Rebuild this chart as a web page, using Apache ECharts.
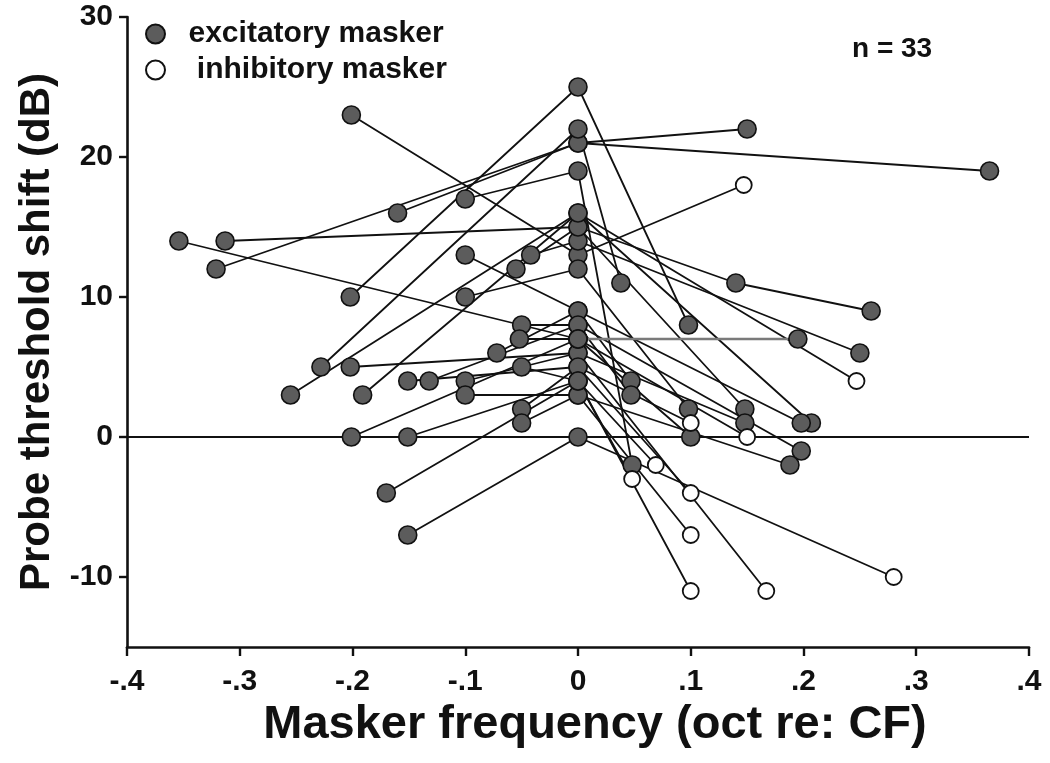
<!DOCTYPE html>
<html>
<head>
<meta charset="utf-8">
<title>Probe threshold shift</title>
<script src="https://cdn.jsdelivr.net/npm/echarts@6/dist/echarts.min.js"></script>
<style>
  html, body { margin: 0; padding: 0; background: #fff; }
  #chart { width: 1050px; height: 763px; }
</style>
</head>
<body>
<div id="chart"></div>
<script>
// one polyline per unit: [masker freq (oct re CF), threshold shift (dB), inhibitory flag]
var units = [
  [[-0.202, 10], [0, 25], [0.098, 8]],
  [[-0.201, 23], [0, 13], [0.147, 18, 1]],
  [[-0.321, 12], [0, 21], [0.365, 19]],
  [[-0.16, 16], [0, 21], [0.15, 22]],
  [[-0.1, 17], [0, 19], [0.048, -2]],
  [[-0.313, 14], [0, 15], [0.14, 11], [0.26, 9]],
  [[-0.354, 14], [0, 7]],
  [[-0.228, 5], [0, 22], [0.038, 11]],
  [[-0.255, 3], [0, 16], [0.247, 4, 1]],
  [[-0.042, 13], [0, 14], [0.25, 6]],
  [[-0.055, 12], [0, 15], [0.148, 2]],
  [[-0.1, 13], [0, 9], [0.047, 4]],
  [[-0.1, 10], [0, 12], [0.098, 2]],
  [[-0.202, 5], [0, 6], [0.167, -11, 1]],
  [[-0.191, 3], [0, 16], [0.207, 1]],
  [[-0.151, 4], [0, 5], [0.1, -4, 1]],
  [[-0.132, 4], [0, 8], [0.047, 3]],
  [[-0.1, 4], [0, 6], [0.148, 1]],
  [[-0.1, 3], [0, 3], [0.1, -7, 1]],
  [[-0.072, 6], [0, 9], [0.198, 1]],
  [[-0.05, 8], [0, 8], [0.198, -1]],
  [[-0.052, 7], [0, 7], [0.15, 0, 1]],
  [[-0.05, 5], [0, 4], [0.1, -11, 1]],
  [[-0.05, 2], [0, 5], [0.1, 1, 1]],
  [[-0.05, 1], [0, 3], [0.188, -2]],
  [[-0.201, 0], [0, 7], [0.1, 0]],
  [[-0.151, 0], [0, 4], [0.048, -3, 1]],
  [[-0.17, -4], [0, 4], [0.069, -2, 1]],
  [[-0.151, -7], [0, 0], [0.28, -10, 1]]
];
// unit drawn with a grey connecting line
var greyUnit = [[0, 7], [0.195, 7]];
var zeroLine = [[-0.4, 0], [0.4, 0]];
var yTicks = [-10, 0, 10, 20, 30];

var excit = [], inhib = [];
units.concat([greyUnit]).forEach(function (u) {
  u.forEach(function (p) {
    (p[2] ? inhib : excit).push([p[0], p[1]]);
  });
});

var FONT = '"Liberation Sans", Arial, sans-serif';
var series = [{
  type: 'line', data: zeroLine, showSymbol: false, silent: true, z: 1,
  lineStyle: { color: '#111', width: 2.2 }
}];
units.forEach(function (u) {
  series.push({
    type: 'line', silent: true, showSymbol: false, z: 2,
    data: u.map(function (p) { return [p[0], p[1]]; }),
    lineStyle: { color: '#111', width: 1.8 }
  });
});
series.push({
  type: 'line', silent: true, showSymbol: false, z: 2, data: greyUnit,
  lineStyle: { color: '#7a7a7a', width: 2.6 }
});
series.push({
  name: 'excitatory masker', type: 'scatter', data: excit, symbolSize: 18, z: 5,
  itemStyle: { color: '#5c5c5c', borderColor: '#111', borderWidth: 1.6, opacity: 1 }
});
series.push({
  name: 'inhibitory masker', type: 'scatter', data: inhib, symbolSize: 16, z: 5,
  itemStyle: { color: '#fff', borderColor: '#111', borderWidth: 1.8, opacity: 1 }
});

var chart = echarts.init(document.getElementById('chart'));
chart.setOption({
  animation: false,
  backgroundColor: '#fff',
  title: {
    text: 'n = 33', left: 852, top: 35, padding: 0,
    textStyle: { fontFamily: FONT, fontWeight: 'bold', fontSize: 28, color: '#111' }
  },
  legend: {
    data: ['excitatory masker', 'inhibitory masker'],
    orient: 'vertical', left: 145, top: 19, padding: 0,
    itemWidth: 56, itemHeight: 19, itemGap: 6,
    formatter: function (name) { return name.charAt(0) === 'i' ? ' ' + name : name; },
    textStyle: { fontFamily: FONT, fontWeight: 'bold', fontSize: 30, color: '#111' }
  },
  grid: { left: 127, right: 21, top: 17, bottom: 116 },
  xAxis: {
    type: 'value', min: -0.4, max: 0.4, interval: 0.1,
    name: 'Masker frequency (oct re: CF)', nameLocation: 'middle', nameGap: 49,
    nameTextStyle: { fontFamily: FONT, fontWeight: 'bold', fontSize: 47, color: '#111', padding: [0, 0, 0, 34] },
    axisLine: { onZero: false, lineStyle: { color: '#111', width: 2.6 } },
    axisTick: { length: 9, lineStyle: { color: '#111', width: 2.4 } },
    splitLine: { show: false },
    axisLabel: {
      margin: 20, color: '#111', fontFamily: FONT, fontWeight: 'bold', fontSize: 30,
      formatter: function (v) {
        var k = Math.round(Math.abs(v) * 10);
        return k === 0 ? '0' : (v < 0 ? '-' : '') + '.' + k;
      }
    }
  },
  yAxis: {
    type: 'value', min: -15, max: 30,
    name: 'Probe threshold shift (dB)', nameLocation: 'middle', nameGap: 45,
    nameTextStyle: { fontFamily: FONT, fontWeight: 'bold', fontSize: 42, color: '#111' },
    axisLine: { onZero: false, lineStyle: { color: '#111', width: 2.6 } },
    axisTick: { length: 8, customValues: yTicks, lineStyle: { color: '#111', width: 2.4 } },
    splitLine: { show: false },
    axisLabel: {
      margin: 14, color: '#111', fontFamily: FONT, fontWeight: 'bold', fontSize: 30,
      customValues: yTicks
    }
  },
  series: series
});
</script>
</body>
</html>
